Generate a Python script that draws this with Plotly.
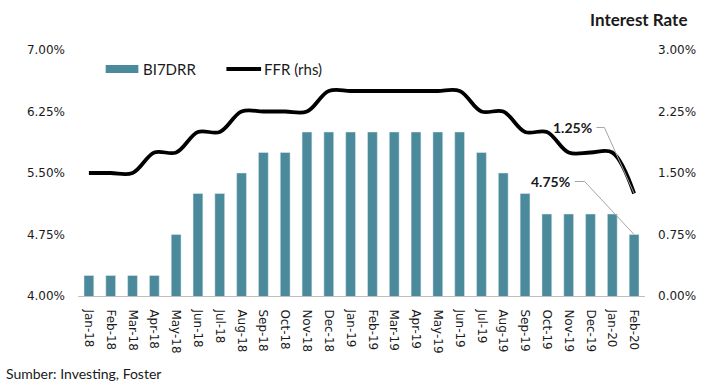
import plotly.graph_objects as go

months = ["Jan-18", "Feb-18", "Mar-18", "Apr-18", "May-18", "Jun-18", "Jul-18", "Aug-18",
          "Sep-18", "Oct-18", "Nov-18", "Dec-18", "Jan-19", "Feb-19", "Mar-19", "Apr-19",
          "May-19", "Jun-19", "Jul-19", "Aug-19", "Sep-19", "Oct-19", "Nov-19", "Dec-19",
          "Jan-20", "Feb-20"]
bi7drr = [4.25, 4.25, 4.25, 4.25, 4.75, 5.25, 5.25, 5.50, 5.75, 5.75, 6.00, 6.00, 6.00,
          6.00, 6.00, 6.00, 6.00, 6.00, 5.75, 5.50, 5.25, 5.00, 5.00, 5.00, 5.00, 4.75]
ffr = [1.50, 1.50, 1.50, 1.75, 1.75, 2.00, 2.00, 2.25, 2.25, 2.25, 2.25, 2.50, 2.50,
       2.50, 2.50, 2.50, 2.50, 2.50, 2.25, 2.25, 2.00, 2.00, 1.75, 1.75, 1.75, 1.25]
left_ticks = [4.00, 4.75, 5.50, 6.25, 7.00]
right_ticks = [0.00, 0.75, 1.50, 2.25, 3.00]

BAR_COLOR = "#4A8A9B"
TICK_FONT = dict(family="DejaVu Sans", size=12, color="#1a1a1a")
TXT_FONT = "Lato"

W, H = 708, 383
ML, MR, MT, MB = 78, 57, 50, 87
PW, PH = W - ML - MR, H - MT - MB
px_cat = PW / len(months)
px_unit = PH / 3.0

def px_x(p):
    return (p - ML) / PW

def px_y(p):
    return (H - MB - p) / PH

fig = go.Figure()
fig.add_trace(go.Bar(x=months, y=bi7drr, name="BI7DRR", marker_color=BAR_COLOR,
                     width=0.45, yaxis="y", showlegend=False))
fig.add_trace(go.Scatter(x=months, y=ffr, name="FFR (rhs)", mode="lines",
                         line=dict(color="black", width=3.8, shape="spline", smoothing=1.0),
                         yaxis="y2", showlegend=False))

shapes = []
annotations = []

# manual legend
shapes.append(dict(type="rect", xref="paper", yref="paper", x0=px_x(106), x1=px_x(139),
                   y0=px_y(73), y1=px_y(65), fillcolor=BAR_COLOR, line=dict(width=0)))
annotations.append(dict(xref="paper", yref="paper", x=px_x(142), y=px_y(69), text="BI7DRR",
                        showarrow=False, xanchor="left", yanchor="middle",
                        font=dict(family=TXT_FONT, size=15, color="#1a1a1a")))
shapes.append(dict(type="line", xref="paper", yref="paper", x0=px_x(228), x1=px_x(263),
                   y0=px_y(69), y1=px_y(69), line=dict(color="black", width=4)))
annotations.append(dict(xref="paper", yref="paper", x=px_x(264), y=px_y(69), text="FFR (rhs)",
                        showarrow=False, xanchor="left", yanchor="middle",
                        font=dict(family=TXT_FONT, size=15, color="#1a1a1a")))

# data labels with leader lines
last = len(months) - 1
def leader(yval, yref, dx_text, dx_elbow, dy_px, label):
    xe = last
    xb = last - dx_elbow / px_cat
    xt = last - dx_text / px_cat
    yt = yval + dy_px / px_unit
    shapes.append(dict(type="path", xref="x", yref=yref,
                       path=f"M {xt},{yt} L {xb},{yt} L {xe},{yval}",
                       line=dict(color="#a6a6a6", width=1)))
    annotations.append(dict(xref="x", yref=yref, x=xt - 3 / px_cat, y=yt, text=f"<b>{label}</b>",
                            showarrow=False, xanchor="right", yanchor="middle",
                            font=dict(family=TXT_FONT, size=14, color="#1a1a1a")))

leader(ffr[-1], "y2", 38, 30, 66, f"{ffr[-1]:.2f}%")
leader(bi7drr[-1], "y", 60, 50, 53, f"{bi7drr[-1]:.2f}%")

annotations.append(dict(xref="paper", yref="paper", x=px_x(695), y=px_y(20), text="<b>Interest Rate</b>",
                        showarrow=False, xanchor="right", yanchor="middle",
                        font=dict(family=TXT_FONT, size=17, color="#1a1a1a")))
annotations.append(dict(xref="paper", yref="paper", x=px_x(3), y=px_y(373), text="Sumber: Investing, Foster",
                        showarrow=False, xanchor="left", yanchor="middle",
                        font=dict(family=TXT_FONT, size=14, color="#1a1a1a")))

fig.update_layout(
    width=W, height=H,
    margin=dict(l=ML, r=MR, t=MT, b=MB, pad=0),
    paper_bgcolor="white", plot_bgcolor="white",
    bargap=0.55,
    xaxis=dict(type="category", showline=True, linecolor="#BFBFBF", linewidth=1,
               showgrid=False, zeroline=False, ticks="", tickangle=90, tickfont=TICK_FONT,
               ticklabelstandoff=10),
    yaxis=dict(range=[4, 7], tickvals=left_ticks, ticktext=[f"{v:.2f}%" for v in left_ticks],
               showgrid=False, zeroline=False, showline=False, ticks="", tickfont=TICK_FONT,
               ticklabelstandoff=12),
    yaxis2=dict(range=[0, 3], overlaying="y", side="right", tickvals=right_ticks,
                ticktext=[f"{v:.2f}%" for v in right_ticks], showgrid=False, zeroline=False,
                showline=False, ticks="", tickfont=TICK_FONT, ticklabelstandoff=12),
    shapes=shapes, annotations=annotations,
)

fig.write_html("out.html", config={"displayModeBar": False},
               post_script="document.body.style.margin='0';document.body.style.overflow='hidden';")
